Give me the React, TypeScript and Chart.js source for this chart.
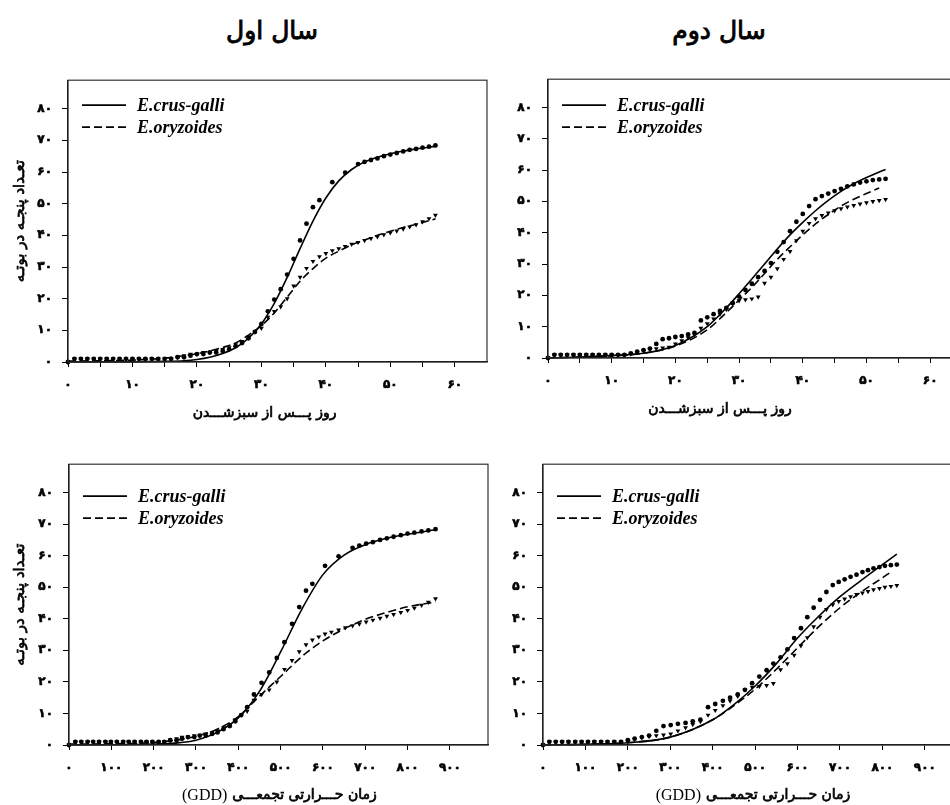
import React, { useEffect, useRef } from 'react';
import { Chart, registerables } from 'chart.js';

Chart.register(...registerables);

const FA_DIGITS = '۰۱۲۳۴۵۶۷۸۹';
const toFa = (v: number) => String(v).replace(/\d/g, (d) => FA_DIGITS[Number(d)]);

const SERIES_CRUS = 'E.crus-galli';
const SERIES_ORYZ = 'E.oryzoides';
const TITLE_YEAR1 = 'سال اول';
const TITLE_YEAR2 = 'سال دوم';
const Y_TITLE = 'تعـداد پنجـه در بوتـه';
const X_TITLE_DAYS = 'روز پـــس از سبزشـــدن';
const X_TITLE_GDD = 'زمان حـــرارتی تجمعـــی';
const X_TITLE_GDD_EN = '(GDD)';

// tick positions and labels
const yTicks = [0, 10, 20, 30, 40, 50, 60, 70, 80];
const dayTicks = [0, 5, 10, 15, 20, 25, 30, 35, 40, 45, 50, 55, 60];
const dayTickLabels = [0, 10, 20, 30, 40, 50, 60];
const gddTicks = [0, 100, 200, 300, 400, 500, 600, 700, 800, 900];
const gddTickLabels = [0, 100, 200, 300, 400, 500, 600, 700, 800, 900];

// ---------- Year 1 ----------
const days1 = [0, 1, 2, 3, 4, 5, 6, 7, 8, 9, 10, 11, 12, 13, 14, 15, 16, 17, 18, 19, 20, 21, 22, 23, 24, 25, 26, 27, 28, 29, 30, 31, 32, 33, 34, 35, 36, 37, 38, 39, 40, 41, 42, 43, 44, 45, 46, 47, 48, 49, 50, 51, 52, 53, 54, 55, 56, 57];
const gdd1 = [0, 15, 29, 44, 57, 71, 86, 99, 113, 128, 141, 155, 170, 183, 197, 212, 225, 239, 254, 267, 281, 296, 309, 323, 338, 351, 365, 380, 393, 407, 421, 437, 455, 473, 491, 509, 527, 544, 560, 575, 590, 605, 620, 637, 653, 670, 686, 702, 718, 735, 751, 767, 784, 800, 816, 833, 849, 866];
const crusObs1 = [0, 1, 1, 1, 1, 1, 1, 1, 1, 1, 1, 1, 1, 1, 1, 1, 1, 1.5, 1.5, 2, 2.5, 2.5, 3, 3, 3.5, 4, 5, 6, 7.5, 9.5, 12, 16, 19.7, 23, 27.6, 32.6, 38.4, 43.7, 48.9, 51.1, null, 56.8, null, 59.8, null, 62.5, 63.2, 63.8, 64.3, 65, 65.5, 66, 66.5, 67, 67.3, 67.7, 68, 68.4];
const oryzObs1 = [0, 1, 1, 1, 1, 1, 1, 1, 1, 1, 1, 1, 1, 1, 1, 1, 1, 1.5, 2, 2.5, 2.5, 3, 3, 3.5, 4, 4.5, 5.5, 6.5, 8, 9.5, 10.7, 14.2, 16, 17.5, 20, 24, 26.8, 29.6, 31.8, 33.3, 34.3, 35.2, 35.8, 36.5, 37.2, 37.8, 38.4, 39, 39.6, 40.2, 40.8, 41.4, 42, 42.7, 43.4, 44.3, 45.3, 46.4];
const fitDays1 = [0, 5, 10, 15, 18, 20, 22, 24, 26, 28, 30, 32, 34, 36, 38, 40, 42, 44, 46, 48, 50, 52, 54, 57];
const crusFitDays1 = [0, 0, 0.05, 0.2, 0.4, 0.8, 1.5, 2.7, 4.5, 7.5, 12, 18.5, 26.7, 35.8, 44.5, 51.8, 57.2, 60.8, 63.2, 64.7, 65.8, 66.6, 67.3, 68.1];
const oryzFitDays1 = [0.3, 0.4, 0.6, 1.2, 2, 2.6, 3.5, 4.6, 6, 8.5, 11.5, 15.5, 20.5, 25.5, 29.5, 32.8, 35, 37, 38.5, 40, 41.3, 42.5, 43.5, 45.2];
const fitGdd1 = [0, 100, 200, 250, 300, 350, 400, 450, 500, 550, 600, 650, 700, 750, 800, 866];
const crusFitGdd1 = [0, 0.1, 0.3, 0.6, 1.5, 4, 8.6, 17, 29.5, 43, 54, 60.2, 63.5, 65.5, 66.8, 68.2];
const oryzFitGdd1 = [0.3, 0.4, 0.8, 1.5, 2.8, 5, 9, 15.5, 21.7, 28, 33, 36.8, 39.8, 42, 43.8, 45.3];

// ---------- Year 2 ----------
const days2 = [0, 1, 2, 3, 4, 5, 6, 7, 8, 9, 10, 11, 12, 13, 14, 15, 16, 17, 18, 19, 20, 21, 22, 23, 24, 25, 26, 27, 28, 29, 30, 31, 32, 33, 34, 35, 36, 37, 38, 39, 40, 41, 42, 43, 44, 45, 46, 47, 48, 49, 50, 51, 52, 53];
const gdd2 = [0, 15, 30, 45, 60, 76, 91, 106, 121, 137, 152, 168, 184, 200, 216, 233, 250, 267, 284, 301, 318, 336, 353, 371, 389, 406, 424, 441, 459, 476, 493, 510, 527, 543, 560, 576, 592, 608, 623, 638, 653, 668, 683, 697, 711, 725, 739, 753, 766, 779, 793, 806, 820, 834];
const crusObs2 = [0, 1, 1, 1, 1, 1, 1, 1, 1, 1, 1, 1, 1, 1.5, 2, 2.5, 3, 4.5, 6, 6.3, 6.7, 7, 7.5, 8, 12, 13, 14, 15, 16, 17.5, 19.6, 21.7, 23.7, 25.8, 27.8, 30.3, 33.9, 37, 40.5, 43.5, 46, 48.5, 50.7, 51.7, 52.5, 53.3, 54, 54.8, 55.4, 56, 56.4, 56.8, 57, 57.2];
const oryzObs2 = [0, 1, 1, 1, 1, 1, 1, 1, 1, 1, 1, 1, 1, 1.3, 1.8, 2.3, 2.7, 3, 3.2, 3.5, 4.5, 5.5, 6.5, 7.5, 9.5, 11, 12.5, 14, 15.5, 17.5, 18.3, 18.6, 18.9, 19.5, 23.9, 25.8, 28.5, 31.5, 34, 37.5, 40.5, 43, 44.5, 45.5, 46.3, 47, 47.7, 48.2, 48.7, 49.2, 49.6, 50, 50.3, 50.6];
const fitDays2c = [0, 5, 10, 15, 20, 25, 28, 30, 32, 34, 36, 38, 40, 42, 44, 46, 48, 50, 53];
const crusFitDays2 = [0, 0.3, 0.8, 1.5, 4, 10, 16, 20.5, 25.2, 30, 34.8, 39.3, 43.3, 47, 50.3, 53.2, 55.6, 57.6, 60.2];
const fitDays2o = [0, 5, 10, 15, 20, 25, 28, 30, 32, 34, 36, 38, 40, 42, 44, 46, 48, 50, 52];
const oryzFitDays2 = [0, 0.3, 0.7, 1.5, 3.8, 9, 14.5, 18.5, 22.5, 27, 31.5, 35.5, 39.3, 42.8, 45.8, 48.5, 50.7, 52.5, 54.3];
const fitGdd2c = [0, 100, 200, 300, 400, 450, 500, 550, 600, 650, 700, 750, 800, 834];
const crusFitGdd2 = [0, 0.2, 0.7, 2.5, 8, 12.8, 18.7, 25.8, 33.9, 40.8, 47, 52.2, 57.2, 60.5];
const fitGdd2o = [0, 100, 200, 300, 400, 450, 500, 550, 600, 650, 700, 750, 800, 816];
const oryzFitGdd2 = [0, 0.2, 0.7, 2.5, 8, 12.5, 17.7, 24, 30.8, 37.5, 43.5, 48.5, 53, 54.5];

const FONT_FA = '"DejaVu Sans", sans-serif';
const FONT_SERIF = '"Liberation Serif", "DejaVu Serif", serif';
const PADT = 4;
const PADR = 4;
const AXH = 62;
const Y_MAX = 89;

type PanelSpec = {
  id: string;
  box: { l: number; t: number; r: number; b: number };
  canvasLeft: number;
  xMax: number;
  xTicks: number[];
  xLabels: number[];
  obsX: number[];
  crusObs: (number | null)[];
  oryzObs: (number | null)[];
  crusFitX: number[];
  crusFit: number[];
  oryzFitX: number[];
  oryzFit: number[];
  showYTitle: boolean;
  xTitle: string;
  xTitleEn?: string;
  xTitleAt: number;
  xTitleDy: number;
  legendDy: number;
};

const pts = (xs: number[], ys: (number | null)[]) =>
  xs.map((x, i) => ({ x, y: ys[i] })).filter((p) => p.y !== null && p.y !== undefined) as { x: number; y: number }[];

// draw text filled + thin stroke (gives a bold look to Persian glyphs)
function boldText(ctx: CanvasRenderingContext2D, s: string, x: number, y: number, w = 0.5) {
  ctx.fillText(s, x, y);
  ctx.lineWidth = w;
  ctx.strokeStyle = '#000';
  ctx.setLineDash([]);
  ctx.strokeText(s, x, y);
}

const panelDecor = {
  id: 'panelDecor',
  afterDraw(chart: any, _args: any, opts: any) {
    const { ctx, chartArea: a } = chart;
    ctx.save();
    // frame
    ctx.strokeStyle = '#333';
    ctx.lineWidth = 1.2;
    ctx.setLineDash([]);
    ctx.strokeRect(a.left, a.top, a.right - a.left, a.bottom - a.top);
    // legend (inside plot, top-left)
    const lineSets = chart.data.datasets.filter((d: any) => d.showLine);
    lineSets.forEach((d: any, i: number) => {
      const y = a.top + opts.legendDy + i * 22;
      ctx.beginPath();
      ctx.strokeStyle = '#000';
      ctx.lineWidth = 1.7;
      ctx.setLineDash(d.borderDash || []);
      ctx.moveTo(a.left + 14, y);
      ctx.lineTo(a.left + 58, y);
      ctx.stroke();
      ctx.setLineDash([]);
      ctx.fillStyle = '#000';
      ctx.font = 'italic bold 18px ' + FONT_SERIF;
      ctx.textAlign = 'left';
      ctx.textBaseline = 'middle';
      ctx.fillText(d.label, a.left + 69, y + 1);
    });
    // x-axis title
    const cx = chart.scales.x.getPixelForValue(opts.xTitleAt);
    const cy = a.bottom + opts.xTitleDy;
    ctx.textBaseline = 'middle';
    ctx.textAlign = 'left';
    ctx.fillStyle = '#000';
    ctx.font = '14px ' + FONT_FA;
    const wFa = ctx.measureText(opts.xTitle).width;
    let wEn = 0;
    const gap = 5;
    if (opts.xTitleEn) {
      ctx.font = '16px ' + FONT_SERIF;
      wEn = ctx.measureText(opts.xTitleEn).width;
    }
    const total = wFa + (opts.xTitleEn ? wEn + gap : 0);
    let x0 = cx - total / 2;
    if (opts.xTitleEn) {
      ctx.font = '16px ' + FONT_SERIF;
      ctx.fillText(opts.xTitleEn, x0, cy + 1);
      x0 += wEn + gap;
    }
    ctx.font = '14px ' + FONT_FA;
    boldText(ctx, opts.xTitle, x0, cy, 0.7);
    // y-axis title (rotated)
    if (opts.yTitle) {
      ctx.save();
      ctx.translate(opts.yTitleX, (a.top + a.bottom) / 2);
      ctx.rotate(-Math.PI / 2);
      ctx.textAlign = 'center';
      ctx.textBaseline = 'middle';
      ctx.font = '15px ' + FONT_FA;
      boldText(ctx, opts.yTitle, 0, 0, 0.7);
      ctx.restore();
    }
    ctx.restore();
  },
};

function Panel({ spec }: { spec: PanelSpec }) {
  const ref = useRef<HTMLCanvasElement | null>(null);
  const { box, canvasLeft } = spec;
  const canvasTop = box.t - PADT;
  const W = box.r + PADR - canvasLeft;
  const H = box.b + AXH - canvasTop;
  const AXW = box.l - canvasLeft;

  useEffect(() => {
    if (!ref.current) return;
    const tickFont = { family: FONT_FA, weight: 'bold', size: 12 };
    const chart = new Chart(ref.current, {
      type: 'scatter',
      data: {
        datasets: [
          {
            label: SERIES_CRUS,
            data: pts(spec.crusFitX, spec.crusFit),
            showLine: true,
            borderColor: '#000',
            borderWidth: 1.6,
            pointRadius: 0,
            cubicInterpolationMode: 'monotone',
            clip: false,
          } as any,
          {
            label: SERIES_ORYZ,
            data: pts(spec.oryzFitX, spec.oryzFit),
            showLine: true,
            borderColor: '#000',
            borderWidth: 1.6,
            borderDash: [8, 4],
            pointRadius: 0,
            cubicInterpolationMode: 'monotone',
            clip: false,
          } as any,
          {
            label: SERIES_CRUS + ' observed',
            data: pts(spec.obsX, spec.crusObs),
            pointStyle: 'circle',
            pointRadius: 2.4,
            backgroundColor: '#000',
            borderColor: '#000',
            borderWidth: 0,
            clip: false,
          } as any,
          {
            label: SERIES_ORYZ + ' observed',
            data: pts(spec.obsX, spec.oryzObs),
            pointStyle: 'triangle',
            rotation: 180,
            pointRadius: 2.8,
            backgroundColor: '#000',
            borderColor: '#000',
            borderWidth: 0,
            clip: false,
          } as any,
        ],
      },
      options: {
        animation: false,
        responsive: false,
        maintainAspectRatio: false,
        events: [],
        layout: { padding: { top: PADT, right: PADR, left: 0, bottom: 0 }, autoPadding: false } as any,
        plugins: {
          legend: { display: false },
          tooltip: { enabled: false },
          panelDecor: {
            legendDy: spec.legendDy,
            xTitle: spec.xTitle,
            xTitleEn: spec.xTitleEn,
            xTitleAt: spec.xTitleAt,
            xTitleDy: spec.xTitleDy,
            yTitle: spec.showYTitle ? Y_TITLE : '',
            yTitleX: 20,
          },
        } as any,
        scales: {
          x: {
            type: 'linear',
            min: 0,
            max: spec.xMax,
            afterBuildTicks: (s: any) => {
              s.ticks = spec.xTicks.map((v) => ({ value: v }));
            },
            ticks: {
              autoSkip: false,
              maxRotation: 0,
              minRotation: 0,
              padding: 11,
              color: '#000',
              textStrokeColor: '#000',
              textStrokeWidth: 0.6,
              font: tickFont,
              callback: (v: any) => (spec.xLabels.indexOf(Number(v)) >= 0 ? toFa(Number(v)) : ''),
            },
            grid: { drawOnChartArea: false, drawTicks: true, tickLength: 5, color: '#000', lineWidth: 1 },
            border: { display: true, color: '#000', width: 1.2 },
            afterFit: (s: any) => {
              s.height = AXH;
            },
          } as any,
          y: {
            type: 'linear',
            min: 0,
            max: Y_MAX,
            afterBuildTicks: (s: any) => {
              s.ticks = yTicks.map((v) => ({ value: v }));
            },
            ticks: {
              autoSkip: false,
              padding: 10,
              color: '#000',
              textStrokeColor: '#000',
              textStrokeWidth: 0.6,
              font: tickFont,
              callback: (v: any) => toFa(Number(v)),
            },
            grid: { drawOnChartArea: false, drawTicks: true, tickLength: 6, color: '#000', lineWidth: 1 },
            border: { display: true, color: '#000', width: 1.2 },
            afterFit: (s: any) => {
              s.width = AXW;
            },
          } as any,
        },
      },
      plugins: [panelDecor as any],
    });
    return () => chart.destroy();
  }, []);

  return (
    <canvas
      ref={ref}
      width={W}
      height={H}
      style={{ position: 'absolute', left: canvasLeft, top: canvasTop, width: W, height: H }}
    />
  );
}

const panels: PanelSpec[] = [
  {
    id: 'y1-days',
    box: { l: 68, t: 67, r: 487, b: 362 },
    canvasLeft: 0,
    xMax: 65,
    xTicks: dayTicks,
    xLabels: dayTickLabels,
    obsX: days1,
    crusObs: crusObs1,
    oryzObs: oryzObs1,
    crusFitX: fitDays1,
    crusFit: crusFitDays1,
    oryzFitX: fitDays1,
    oryzFit: oryzFitDays1,
    showYTitle: true,
    xTitle: X_TITLE_DAYS,
    xTitleAt: 30.5,
    xTitleDy: 51,
    legendDy: 25,
  },
  {
    id: 'y2-days',
    box: { l: 548, t: 66, r: 962, b: 358 },
    canvasLeft: 496,
    xMax: 65,
    xTicks: dayTicks,
    xLabels: dayTickLabels,
    obsX: days2,
    crusObs: crusObs2,
    oryzObs: oryzObs2,
    crusFitX: fitDays2c,
    crusFit: crusFitDays2,
    oryzFitX: fitDays2o,
    oryzFit: oryzFitDays2,
    showYTitle: false,
    xTitle: X_TITLE_DAYS,
    xTitleAt: 27,
    xTitleDy: 51,
    legendDy: 26,
  },
  {
    id: 'y1-gdd',
    box: { l: 69, t: 451, r: 488, b: 745 },
    canvasLeft: 0,
    xMax: 990,
    xTicks: gddTicks,
    xLabels: gddTickLabels,
    obsX: gdd1,
    crusObs: crusObs1,
    oryzObs: oryzObs1,
    crusFitX: fitGdd1,
    crusFit: crusFitGdd1,
    oryzFitX: fitGdd1,
    oryzFit: oryzFitGdd1,
    showYTitle: true,
    xTitle: X_TITLE_GDD,
    xTitleEn: X_TITLE_GDD_EN,
    xTitleAt: 497,
    xTitleDy: 50,
    legendDy: 32,
  },
  {
    id: 'y2-gdd',
    box: { l: 543, t: 451, r: 963, b: 745 },
    canvasLeft: 496,
    xMax: 990,
    xTicks: gddTicks,
    xLabels: gddTickLabels,
    obsX: gdd2,
    crusObs: crusObs2,
    oryzObs: oryzObs2,
    crusFitX: fitGdd2c,
    crusFit: crusFitGdd2,
    oryzFitX: fitGdd2o,
    oryzFit: oryzFitGdd2,
    showYTitle: false,
    xTitle: X_TITLE_GDD,
    xTitleEn: X_TITLE_GDD_EN,
    xTitleAt: 495,
    xTitleDy: 50,
    legendDy: 32,
  },
];

export default function App() {
  const titleStyle: React.CSSProperties = {
    position: 'absolute',
    top: 14,
    width: 200,
    textAlign: 'center',
    fontFamily: FONT_FA,
    fontSize: 25,
    lineHeight: '34px',
    color: '#000',
    direction: 'rtl',
    WebkitTextStroke: '0.9px #000',
  };
  return (
    <div
      style={{
        position: 'absolute',
        left: 0,
        top: 0,
        width: 950,
        height: 805,
        overflow: 'hidden',
        background: '#fff',
      }}
    >
      <div style={{ ...titleStyle, left: 172 }}>{TITLE_YEAR1}</div>
      <div style={{ ...titleStyle, left: 619 }}>{TITLE_YEAR2}</div>
      {panels.map((p) => (
        <Panel key={p.id} spec={p} />
      ))}
    </div>
  );
}
